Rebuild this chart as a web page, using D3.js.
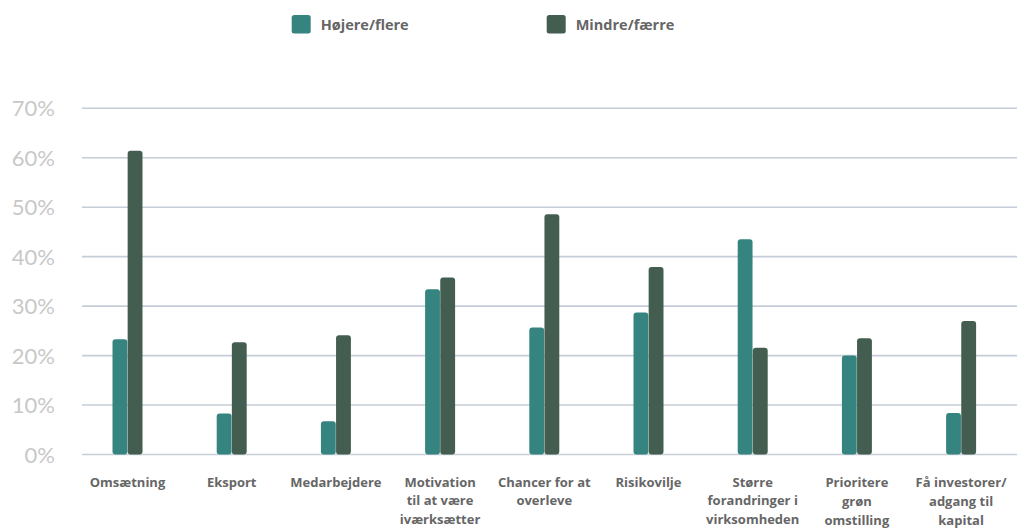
<!DOCTYPE html>
<html>
<head>
<meta charset="utf-8">
<script src="https://cdn.jsdelivr.net/npm/d3@7"></script>
<style>
  html, body { margin: 0; padding: 0; background: #ffffff; }
  svg { display: block; }
</style>
</head>
<body>
<svg id="chart" width="1017" height="530"></svg>
<script>
// ---- data ----
const categories = ["Omsætning", "Eksport", "Medarbejdere", "Motivation til at være iværksætter",
  "Chancer for at overleve", "Risikovilje", "Større forandringer i virksomheden",
  "Prioritere grøn omstilling", "Få investorer/ adgang til kapital"];
const categoryLines = [
  ["Omsætning"], ["Eksport"], ["Medarbejdere"],
  ["Motivation", "til at være", "iværksætter"],
  ["Chancer for at", "overleve"], ["Risikovilje"],
  ["Større", "forandringer i", "virksomheden"],
  ["Prioritere", "grøn", "omstilling"],
  ["Få investorer/", "adgang til", "kapital"]
];
const seriesNames = ["Højere/flere", "Mindre/færre"];
const hojereFlere = [23.3, 8.3, 6.7, 33.4, 25.7, 28.7, 43.5, 20.0, 8.4];
const mindreFaerre = [61.4, 22.7, 24.1, 35.8, 48.6, 37.9, 21.6, 23.5, 27.0];
const yTicks = [0, 10, 20, 30, 40, 50, 60, 70];

// ---- layout ----
const colors = ["#368480", "#435e50"];
const svg = d3.select("#chart");
const y = d3.scaleLinear().domain([0, 70]).range([454.5, 108.3]);
const x = d3.scaleBand().domain(categories).range([75.4, 1013.2]).paddingInner(0).paddingOuter(0);
const barW = 14.7;
const inner = d3.scaleBand().domain(seriesNames).range([-barW - 0.3, barW + 0.3]).paddingInner(0.02);

// gridlines
svg.append("g").selectAll("line").data(yTicks).join("line")
  .attr("x1", 82).attr("x2", 1017)
  .attr("y1", d => y(d)).attr("y2", d => y(d))
  .attr("stroke", "#c5ced8").attr("stroke-width", 1.6);

// y tick labels
svg.append("g").selectAll("text").data(yTicks).join("text")
  .attr("x", 55).attr("y", d => y(d) + 8)
  .attr("text-anchor", "end")
  .attr("font-family", "Lato, 'Open Sans', sans-serif")
  .attr("font-size", 22).attr("fill", "#c8c8c8")
  .text(d => d + "%");

// bars
const series = [hojereFlere, mindreFaerre];
series.forEach((vals, si) => {
  svg.append("g").selectAll("rect").data(vals).join("rect")
    .attr("x", (d, i) => x(categories[i]) + x.bandwidth() / 2 + inner(seriesNames[si]))
    .attr("width", inner.bandwidth())
    .attr("y", d => y(d))
    .attr("height", d => y(0) - y(d))
    .attr("rx", 3).attr("ry", 3)
    .attr("fill", colors[si]);
});

// category labels
const lab = svg.append("g")
  .attr("font-family", "'Open Sans', Lato, sans-serif")
  .attr("font-weight", 700).attr("font-size", 13).attr("fill", "#666666")
  .attr("text-anchor", "middle");
categoryLines.forEach((lines, i) => {
  const cx = x(categories[i]) + x.bandwidth() / 2;
  const lh = i >= 7 ? 19.3 : 18.6;
  const t = lab.append("text").attr("x", cx).attr("y", 486.7);
  lines.forEach((ln, j) => {
    t.append("tspan").attr("x", cx).attr("y", 486.7 + j * lh).text(ln);
  });
});

// legend
const legendX = [291.7, 546.7];
const lg = svg.append("g");
seriesNames.forEach((name, i) => {
  lg.append("rect").attr("x", legendX[i]).attr("y", 15).attr("width", 19).attr("height", 18.5)
    .attr("rx", 2.5).attr("fill", colors[i]);
  lg.append("text").attr("x", legendX[i] + 29).attr("y", 29.5)
    .attr("font-family", "'Open Sans', Lato, sans-serif")
    .attr("font-weight", 700).attr("font-size", 14.5).attr("fill", "#666666")
    .text(name);
});
</script>
</body>
</html>
